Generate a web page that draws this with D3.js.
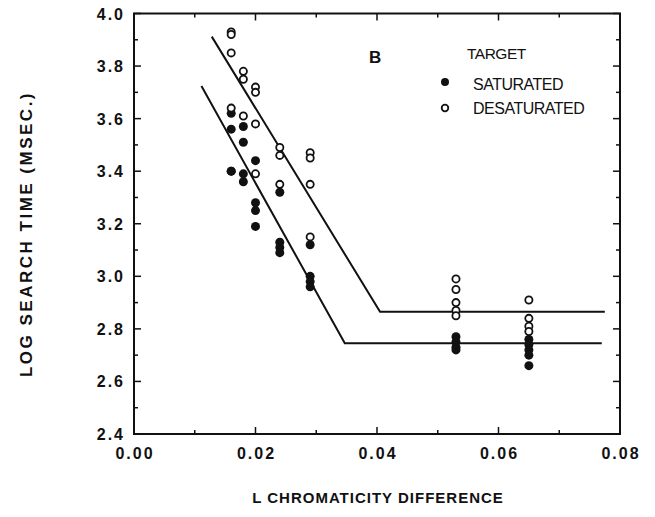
<!DOCTYPE html>
<html>
<head>
<meta charset="utf-8">
<script src="https://cdn.jsdelivr.net/npm/d3@7"></script>
<style>
  body { margin: 0; background: #fff; }
  text { font-family: "Liberation Sans", Arial, sans-serif; fill: #111; }
</style>
</head>
<body>
<div id="chart"></div>
<script>
// L chromaticity difference for each column of points
var satX   = [0.016,0.016,0.016,0.016, 0.018,0.018,0.018,0.018, 0.020,0.020,0.020,0.020,
              0.024,0.024,0.024,0.024, 0.029,0.029,0.029,0.029,
              0.053,0.053,0.053,0.053, 0.065,0.065,0.065,0.065,0.065];
var satY   = [3.62,3.56,3.40,3.40, 3.57,3.51,3.39,3.36, 3.44,3.28,3.25,3.19,
              3.32,3.13,3.11,3.09, 3.12,3.00,2.98,2.96,
              2.77,2.75,2.73,2.72, 2.76,2.74,2.72,2.70,2.66];
var desatX = [0.016,0.016,0.016,0.016, 0.018,0.018,0.018, 0.020,0.020,0.020,0.020,
              0.024,0.024,0.024, 0.029,0.029,0.029,0.029,
              0.053,0.053,0.053,0.053,0.053, 0.065,0.065,0.065,0.065];
var desatY = [3.93,3.92,3.85,3.64, 3.78,3.75,3.61, 3.72,3.70,3.58,3.39,
              3.49,3.46,3.35, 3.47,3.45,3.35,3.15,
              2.99,2.95,2.90,2.87,2.85, 2.91,2.84,2.81,2.79];

// fitted two-segment lines
var satLineX   = [0.0111, 0.0347, 0.0770];
var satLineY   = [3.724, 2.745, 2.745];
var desatLineX = [0.0128, 0.0405, 0.0775];
var desatLineY = [3.912, 2.865, 2.865];

var xTicks = [0, 0.02, 0.04, 0.06, 0.08];
var yTicks = [2.4, 2.6, 2.8, 3.0, 3.2, 3.4, 3.6, 3.8, 4.0];

var width = 655, height = 517;
var margin = {left: 134, right: 35, top: 13.5, bottom: 83};

var svg = d3.select("#chart").append("svg")
    .attr("width", width)
    .attr("height", height);

var x = d3.scaleLinear().domain([0, 0.08]).range([margin.left, width - margin.right]);
var y = d3.scaleLinear().domain([2.4, 4.0]).range([height - margin.bottom, margin.top]);

// frame
svg.append("rect")
    .attr("x", x(0)).attr("y", y(4.0))
    .attr("width", x(0.08) - x(0)).attr("height", y(2.4) - y(4.0))
    .attr("fill", "none").attr("stroke", "#111").attr("stroke-width", 2);

// inward ticks on all four sides, minor ticks halfway
var xMinor = d3.range(0, 0.0801, 0.01);
var yMinor = d3.range(2.4, 4.001, 0.1);
function isMajorX(v) { return Math.abs(Math.round(v * 50) - v * 50) < 1e-6; }
function isMajorY(v) { return Math.abs(Math.round(v * 5) - v * 5) < 1e-6; }

var ticks = svg.append("g").attr("stroke", "#111").attr("stroke-width", 1.5);
xMinor.forEach(function(v) {
  var len = isMajorX(v) ? 7 : 4;
  ticks.append("line").attr("x1", x(v)).attr("x2", x(v)).attr("y1", y(2.4)).attr("y2", y(2.4) - len);
  ticks.append("line").attr("x1", x(v)).attr("x2", x(v)).attr("y1", y(4.0)).attr("y2", y(4.0) + len);
});
yMinor.forEach(function(v) {
  var len = isMajorY(v) ? 7 : 4;
  ticks.append("line").attr("y1", y(v)).attr("y2", y(v)).attr("x1", x(0)).attr("x2", x(0) + len);
  ticks.append("line").attr("y1", y(v)).attr("y2", y(v)).attr("x1", x(0.08)).attr("x2", x(0.08) - len);
});

// tick labels
svg.selectAll(".xlab").data(xTicks).enter().append("text")
    .attr("x", function(d) { return x(d) + 1; })
    .attr("y", y(2.4) + 25)
    .attr("text-anchor", "middle")
    .style("font-size", "16px").style("font-weight", "bold").style("letter-spacing", "2px")
    .text(function(d) { return d3.format(".2f")(d); });

svg.selectAll(".ylab").data(yTicks).enter().append("text")
    .attr("x", x(0) - 9)
    .attr("y", function(d) { return y(d) + 6; })
    .attr("text-anchor", "end")
    .style("font-size", "16px").style("font-weight", "bold").style("letter-spacing", "2px")
    .text(function(d) { return d3.format(".1f")(d); });

// axis titles
svg.append("text")
    .attr("x", 378).attr("y", 503)
    .attr("text-anchor", "middle")
    .style("font-size", "15px").style("font-weight", "bold").style("letter-spacing", "1px")
    .text("L CHROMATICITY DIFFERENCE");

svg.append("text")
    .attr("transform", "translate(32,234) rotate(-90)")
    .attr("text-anchor", "middle")
    .style("font-size", "17px").style("font-weight", "bold").style("letter-spacing", "2.5px")
    .text("LOG SEARCH TIME (MSEC.)");

// fit lines
var line = d3.line().x(function(d) { return x(d[0]); }).y(function(d) { return y(d[1]); });
svg.append("path")
    .datum(d3.zip(satLineX, satLineY))
    .attr("d", line).attr("fill", "none").attr("stroke", "#111").attr("stroke-width", 2);
svg.append("path")
    .datum(d3.zip(desatLineX, desatLineY))
    .attr("d", line).attr("fill", "none").attr("stroke", "#111").attr("stroke-width", 2);

// points
svg.selectAll(".sat").data(d3.zip(satX, satY)).enter().append("circle")
    .attr("cx", function(d) { return x(d[0]); })
    .attr("cy", function(d) { return y(d[1]); })
    .attr("r", 4.5).attr("fill", "#111");

svg.selectAll(".desat").data(d3.zip(desatX, desatY)).enter().append("circle")
    .attr("cx", function(d) { return x(d[0]); })
    .attr("cy", function(d) { return y(d[1]); })
    .attr("r", 3.6).attr("fill", "#fff").attr("stroke", "#111").attr("stroke-width", 1.8);

// panel letter and legend
svg.append("text").attr("x", 369).attr("y", 63)
    .style("font-size", "17px").style("font-weight", "bold").text("B");

svg.append("text").attr("x", 467).attr("y", 59)
    .style("font-size", "15.5px").style("letter-spacing", "-0.5px").text("TARGET");

svg.append("circle").attr("cx", 445).attr("cy", 82).attr("r", 4).attr("fill", "#111");
svg.append("text").attr("x", 473).attr("y", 90)
    .style("font-size", "16px").style("letter-spacing", "-0.5px").text("SATURATED");

svg.append("circle").attr("cx", 445).attr("cy", 108).attr("r", 3.3)
    .attr("fill", "#fff").attr("stroke", "#111").attr("stroke-width", 1.8);
svg.append("text").attr("x", 473).attr("y", 114)
    .style("font-size", "16px").style("letter-spacing", "-0.5px").text("DESATURATED");
</script>
</body>
</html>
